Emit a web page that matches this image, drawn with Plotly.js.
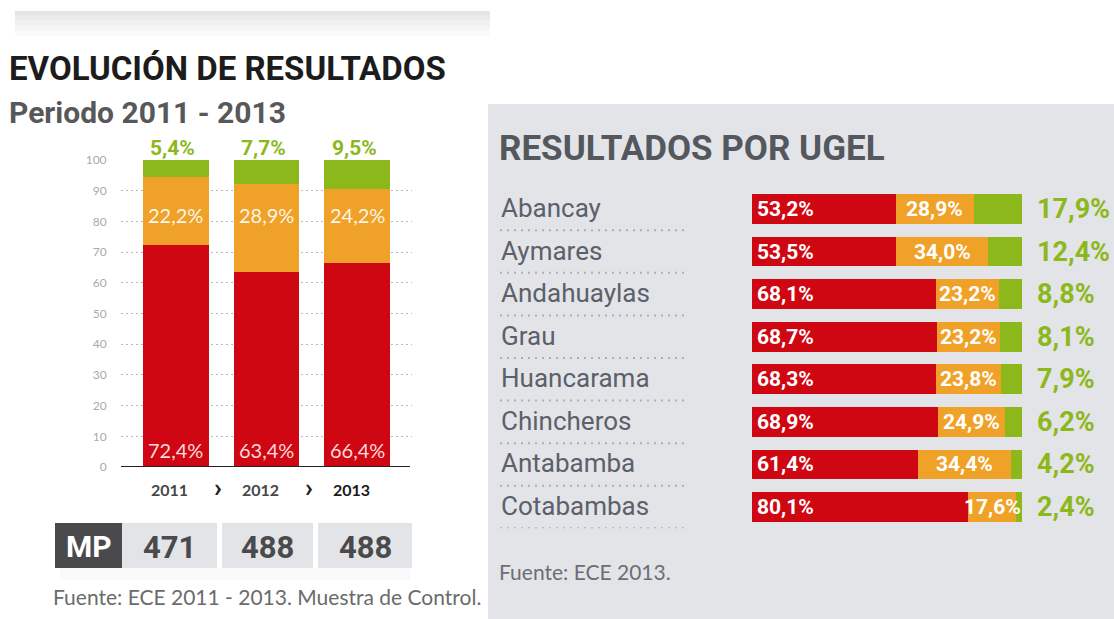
<!DOCTYPE html>
<html><head><meta charset="utf-8">
<script src="https://cdn.plot.ly/plotly-3.0.1.min.js"></script>
<style>html,body{margin:0;padding:0;background:#fff;}#chart{width:1114px;height:619px;}</style>
</head><body><div id="chart"></div>
<script>
// ---- data ----
const years = ['2011', '2012', '2013'];
const evoRed = [72.4, 63.4, 66.4];
const evoOrange = [22.2, 28.9, 24.2];
const evoGreen = [5.4, 7.7, 9.5];
const mpLabel = 'MP';
const mpValues = [471, 488, 488];

const ugel = ['Abancay', 'Aymares', 'Andahuaylas', 'Grau', 'Huancarama', 'Chincheros', 'Antabamba', 'Cotabambas'];
const ugelRed = [53.2, 53.5, 68.1, 68.7, 68.3, 68.9, 61.4, 80.1];
const ugelOrange = [28.9, 34.0, 23.2, 23.2, 23.8, 24.9, 34.4, 17.6];
const ugelGreen = [17.9, 12.4, 8.8, 8.1, 7.9, 6.2, 4.2, 2.4];

// ---- style ----
const W = 1114, H = 619;
const px = v => v / W;
const py = v => 1 - v / H;
const RED = '#cf0712', ORANGE = '#f0a128', GREEN = '#8cb81c';
const COND = 'Roboto, "Liberation Sans", sans-serif';
const REG = 'Lato, "Liberation Sans", sans-serif';
const fmt = v => v.toFixed(1).replace('.', ',') + '%';

const traces = [
  {type: 'bar', x: years, y: evoRed, marker: {color: RED}, width: 0.725, xaxis: 'x', yaxis: 'y', hoverinfo: 'skip'},
  {type: 'bar', x: years, y: evoOrange, marker: {color: ORANGE}, width: 0.725, xaxis: 'x', yaxis: 'y', hoverinfo: 'skip'},
  {type: 'bar', x: years, y: evoGreen, marker: {color: GREEN}, width: 0.725, xaxis: 'x', yaxis: 'y', hoverinfo: 'skip'},
  {type: 'bar', orientation: 'h', y: ugel, x: ugelRed, marker: {color: RED}, width: 0.7, xaxis: 'x2', yaxis: 'y2', hoverinfo: 'skip'},
  {type: 'bar', orientation: 'h', y: ugel, x: ugelOrange, marker: {color: ORANGE}, width: 0.7, xaxis: 'x2', yaxis: 'y2', hoverinfo: 'skip'},
  {type: 'bar', orientation: 'h', y: ugel, x: ugelGreen, marker: {color: GREEN}, width: 0.7, xaxis: 'x2', yaxis: 'y2', hoverinfo: 'skip'}
];

const ann = [];
const shapes = [];

// top shadow of left panel
[[11, 36, 0.015], [11, 31, 0.02], [11, 26, 0.025], [11, 20, 0.025], [11, 15, 0.02]].forEach(s => {
  shapes.push({type: 'rect', xref: 'paper', yref: 'paper', x0: px(15), x1: px(490), y0: py(s[1]), y1: py(s[0]), fillcolor: 'rgba(0,0,0,' + s[2] + ')', line: {width: 0}, layer: 'below'});
});
// right panel background
shapes.push({type: 'rect', xref: 'paper', yref: 'paper', x0: px(488), x1: 1, y0: 0, y1: py(104), fillcolor: '#e3e4e8', line: {width: 0}, layer: 'below'});

// titles
ann.push({xref: 'paper', yref: 'paper', x: px(7), y: py(68), xanchor: 'left', yanchor: 'middle', showarrow: false,
  text: '<b>EVOLUCIÓN DE RESULTADOS</b>', font: {family: COND, size: 33, color: '#1c1c1c'}});
ann.push({xref: 'paper', yref: 'paper', x: px(7), y: py(112), xanchor: 'left', yanchor: 'middle', showarrow: false,
  text: '<b>Periodo 2011 - 2013</b>', font: {family: COND, size: 30, color: '#58585a'}});
ann.push({xref: 'paper', yref: 'paper', x: px(497), y: py(148), xanchor: 'left', yanchor: 'middle', showarrow: false,
  text: '<b>RESULTADOS POR UGEL</b>', font: {family: COND, size: 35, color: '#53575e'}});

// left panel labels
const yearColors = ['#474747', '#474747', '#1a1a1a'];
years.forEach((yr, i) => {
  ann.push({xref: 'x', yref: 'y', x: i, y: 100, showarrow: false, xanchor: 'center', yanchor: 'bottom', xshift: -3, yshift: -2,
    text: '<b>' + fmt(evoGreen[i]) + '</b>', font: {family: COND, size: 21, color: GREEN}});
  ann.push({xref: 'x', yref: 'y', x: i, y: 82, showarrow: false, xanchor: 'center', yanchor: 'middle',
    text: fmt(evoOrange[i]), font: {family: REG, size: 20, color: 'rgba(255,255,255,0.92)'}});
  ann.push({xref: 'x', yref: 'y', x: i, y: 5.6, showarrow: false, xanchor: 'center', yanchor: 'middle',
    text: fmt(evoRed[i]), font: {family: REG, size: 20, color: 'rgba(255,232,232,0.95)'}});
  ann.push({xref: 'x', yref: 'paper', x: i, y: py(489), showarrow: false, xanchor: 'center', yanchor: 'middle', xshift: -6,
    text: '<b>' + yr + '</b>', font: {family: REG, size: 16, color: yearColors[i]}});
});
// chevrons between years
[0.5, 1.5].forEach(c => {
  ann.push({xref: 'x', yref: 'paper', x: c, y: py(488), showarrow: false, xanchor: 'center', yanchor: 'middle', xshift: -3,
    text: '<b>›</b>', font: {family: COND, size: 26, color: '#222'}});
});
// axis baseline
shapes.push({type: 'line', xref: 'paper', yref: 'y', x0: px(121), x1: px(410), y0: 0, y1: 0, line: {color: '#222', width: 2}});

// MP table
shapes.push({type: 'rect', xref: 'paper', yref: 'paper', x0: px(60), x1: px(410), y0: py(580), y1: py(568), fillcolor: 'rgba(0,0,0,0.025)', line: {width: 0}});
shapes.push({type: 'rect', xref: 'paper', yref: 'paper', x0: px(55), x1: px(122), y0: py(568), y1: py(523), fillcolor: '#4a4a4c', line: {width: 0}});
ann.push({xref: 'paper', yref: 'paper', x: px(89), y: py(546), showarrow: false, xanchor: 'center', yanchor: 'middle',
  text: '<b>' + mpLabel + '</b>', font: {family: COND, size: 30, color: '#ffffff'}});
const cells = [[122, 217], [222, 313], [318, 412]];
mpValues.forEach((v, i) => {
  const c = cells[i];
  shapes.push({type: 'rect', xref: 'paper', yref: 'paper', x0: px(c[0]), x1: px(c[1]), y0: py(568), y1: py(523), fillcolor: '#e3e4e7', line: {width: 0}});
  ann.push({xref: 'paper', yref: 'paper', x: px((c[0] + c[1]) / 2), y: py(547), showarrow: false, xanchor: 'center', yanchor: 'middle',
    text: '<b>' + v + '</b>', font: {family: COND, size: 31, color: '#4a4a4c'}});
});
ann.push({xref: 'paper', yref: 'paper', x: px(51), y: py(596), xanchor: 'left', yanchor: 'middle', showarrow: false,
  text: 'Fuente: ECE 2011 - 2013. Muestra de Control.', font: {family: REG, size: 21, color: '#6b6b6b'}});

// right panel labels
ugel.forEach((u, i) => {
  ann.push({xref: 'paper', yref: 'y2', x: px(499), y: u, xanchor: 'left', yanchor: 'middle', showarrow: false, yshift: 1,
    text: u, font: {family: COND, size: 26, color: '#5b606a'}});
  shapes.push({type: 'line', xref: 'paper', yref: 'y2', x0: px(500), x1: px(689), y0: i + 0.5, y1: i + 0.5,
    line: {color: '#aeb0b5', width: 2, dash: '2px,5px'}});
  ann.push({xref: 'x2', yref: 'y2', x: 0, y: u, xanchor: 'left', yanchor: 'middle', showarrow: false, xshift: 3,
    text: '<b>' + fmt(ugelRed[i]) + '</b>', font: {family: COND, size: 21, color: '#ffffff'}});
  ann.push({xref: 'x2', yref: 'y2', x: ugelRed[i] + ugelOrange[i] / 2, y: u, xanchor: 'center', yanchor: 'middle', showarrow: false,
    text: '<b>' + fmt(ugelOrange[i]) + '</b>', font: {family: COND, size: 21, color: '#ffffff'}});
  ann.push({xref: 'x2', yref: 'y2', x: 100, y: u, xanchor: 'left', yanchor: 'middle', showarrow: false, xshift: 13,
    text: '<b>' + fmt(ugelGreen[i]) + '</b>', font: {family: COND, size: 27, color: GREEN}});
});
ann.push({xref: 'paper', yref: 'paper', x: px(497), y: py(571), xanchor: 'left', yanchor: 'middle', showarrow: false,
  text: 'Fuente: ECE 2013.', font: {family: REG, size: 21, color: '#6b6e74'}});

const layout = {
  width: W, height: H,
  margin: {l: 0, r: 0, t: 0, b: 0},
  paper_bgcolor: '#ffffff', plot_bgcolor: 'rgba(0,0,0,0)',
  barmode: 'stack', showlegend: false,
  xaxis: {domain: [px(121), px(412)], range: [-0.6, 2.6], type: 'category', categoryarray: years,
    showgrid: false, zeroline: false, showline: false, anchor: 'y', showticklabels: false, ticks: ''},
  yaxis: {domain: [py(467), py(160)], range: [0, 100], dtick: 10, anchor: 'x',
    showgrid: true, gridcolor: '#b8b8b8', griddash: '2px,3px', gridwidth: 1, zeroline: false, showline: false,
    ticks: 'outside', ticklen: 11, tickcolor: 'rgba(0,0,0,0)',
    tickfont: {family: REG, size: 12, color: '#aaaaaa'}},
  xaxis2: {domain: [px(752), px(1022)], range: [0, 100], anchor: 'y2', visible: false},
  yaxis2: {domain: [py(528.3), py(187.7)], type: 'category', categoryarray: ugel, range: [7.5, -0.5], anchor: 'x2', visible: false},
  annotations: ann,
  shapes: shapes
};
Plotly.newPlot('chart', traces, layout, {staticPlot: true, displayModeBar: false});
</script></body></html>
